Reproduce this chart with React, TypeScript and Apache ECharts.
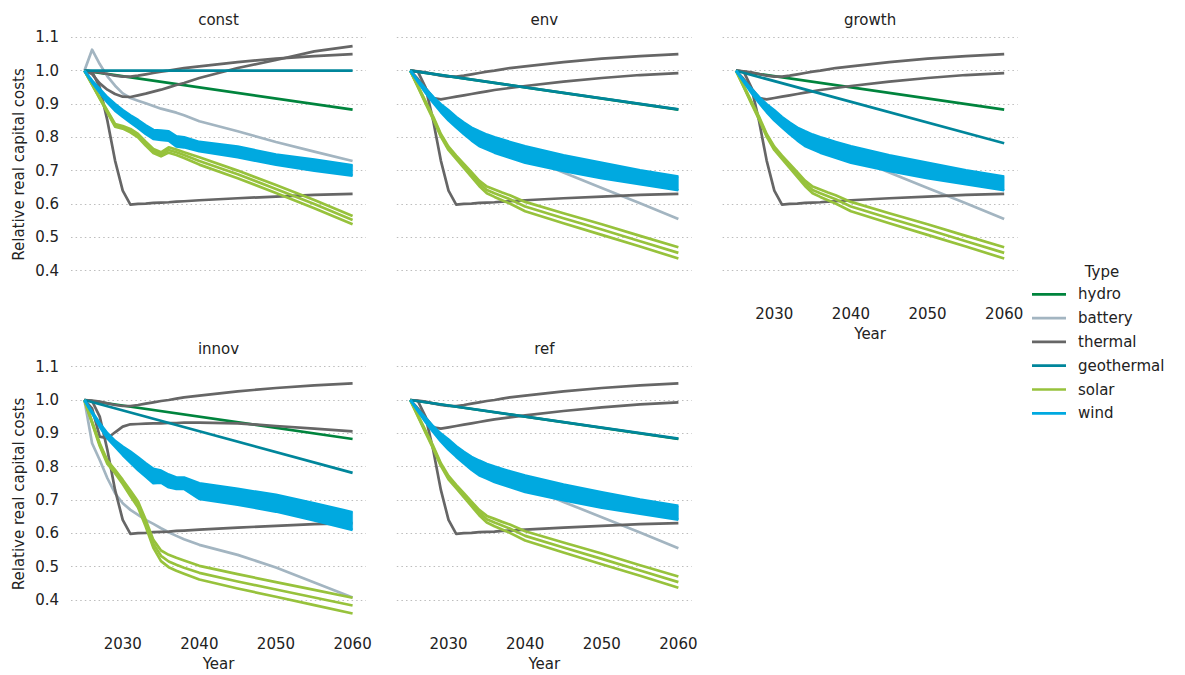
import { useEffect, useRef } from "react";
import * as echarts from "echarts";

// Sample years used by the curved series; straight series only need the endpoints.
const YEARS = [2025, 2026, 2027, 2028, 2029, 2030, 2031, 2032, 2033, 2034, 2035, 2036, 2037, 2038, 2040, 2045, 2050, 2055, 2060];
const ENDS = [2025, 2060];
const X_TICKS = [2030, 2040, 2050, 2060];
const TYPES = ["hydro", "battery", "thermal", "geothermal", "solar", "wind"];

const COLORS: Record<string, string> = {
  hydro: "#00843d",
  battery: "#a3b5c1",
  thermal: "#666666",
  geothermal: "#00869b",
  solar: "#97c23c",
  wind: "#00a9e0",
};

// hydro (same in every scenario)
const HYDRO = [1.0, 0.883];

// geothermal
const GEO_CONST = [1.0, 1.0];
const GEO_ENV = [1.0, 0.884];
const GEO_GROWTH = [1.0, 0.782];
const GEO_INNOV = [1.0, 0.781];
const GEO_REF = [1.0, 0.884];

// thermal
const THERMAL_RISE = [1.0, 0.998, 0.995, 0.99, 0.985, 0.982, 0.982, 0.985, 0.989, 0.993, 0.997, 1.0, 1.004, 1.008, 1.013, 1.026, 1.036, 1.044, 1.05];
const THERMAL_DROP = [1.0, 0.997, 0.95, 0.85, 0.73, 0.64, 0.598, 0.6, 0.601, 0.603, 0.604, 0.605, 0.607, 0.608, 0.611, 0.617, 0.622, 0.627, 0.63];
const THERMAL_DIP_CONST = [1.0, 0.99, 0.962, 0.943, 0.93, 0.922, 0.921, 0.926, 0.931, 0.937, 0.943, 0.95, 0.957, 0.963, 0.978, 1.008, 1.032, 1.058, 1.074];
const THERMAL_DIP_ENV = [1.0, 0.975, 0.948, 0.918, 0.914, 0.918, 0.922, 0.926, 0.93, 0.934, 0.938, 0.942, 0.945, 0.948, 0.954, 0.967, 0.978, 0.987, 0.993];
const THERMAL_DIP_INNOV = [1.0, 0.975, 0.89, 0.885, 0.903, 0.92, 0.927, 0.928, 0.929, 0.93, 0.93, 0.931, 0.931, 0.932, 0.932, 0.93, 0.922, 0.914, 0.906];

// battery
const BATTERY_CONST = [1.0, 1.063, 1.02, 0.983, 0.955, 0.932, 0.918, 0.91, 0.902, 0.894, 0.886, 0.88, 0.874, 0.866, 0.848, 0.818, 0.786, 0.757, 0.729];
const BATTERY_ENV = [1.0, 0.97, 0.94, 0.915, 0.89, 0.866, 0.847, 0.83, 0.815, 0.8, 0.787, 0.778, 0.77, 0.762, 0.742, 0.694, 0.648, 0.602, 0.555];
const BATTERY_INNOV = [1.0, 0.87, 0.82, 0.765, 0.72, 0.69, 0.67, 0.655, 0.64, 0.628, 0.615, 0.603, 0.592, 0.582, 0.565, 0.535, 0.497, 0.452, 0.407];

// solar
const SOLAR_CONST_1 = [1.0, 0.96, 0.92, 0.88, 0.84, 0.834, 0.825, 0.81, 0.787, 0.765, 0.755, 0.77, 0.763, 0.755, 0.74, 0.7, 0.657, 0.612, 0.564];
const SOLAR_CONST_2 = [1.0, 0.959, 0.918, 0.877, 0.836, 0.83, 0.82, 0.805, 0.781, 0.759, 0.749, 0.762, 0.755, 0.747, 0.729, 0.689, 0.645, 0.6, 0.552];
const SOLAR_CONST_3 = [1.0, 0.958, 0.916, 0.874, 0.832, 0.826, 0.815, 0.8, 0.775, 0.753, 0.743, 0.754, 0.747, 0.738, 0.718, 0.677, 0.633, 0.587, 0.539];
const SOLAR_ENV_1 = [1.0, 0.955, 0.908, 0.862, 0.81, 0.772, 0.745, 0.72, 0.695, 0.67, 0.652, 0.643, 0.634, 0.626, 0.606, 0.572, 0.539, 0.504, 0.47];
const SOLAR_ENV_2 = [1.0, 0.953, 0.905, 0.858, 0.806, 0.767, 0.74, 0.714, 0.688, 0.662, 0.642, 0.632, 0.623, 0.614, 0.592, 0.557, 0.523, 0.488, 0.453];
const SOLAR_ENV_3 = [1.0, 0.951, 0.902, 0.854, 0.802, 0.762, 0.735, 0.708, 0.681, 0.654, 0.632, 0.621, 0.611, 0.601, 0.578, 0.542, 0.507, 0.472, 0.436];
const SOLAR_INNOV_1 = [1.0, 0.935, 0.87, 0.818, 0.79, 0.76, 0.728, 0.695, 0.64, 0.58, 0.548, 0.535, 0.526, 0.518, 0.502, 0.477, 0.453, 0.43, 0.406];
const SOLAR_INNOV_2 = [1.0, 0.933, 0.866, 0.813, 0.785, 0.754, 0.72, 0.686, 0.63, 0.568, 0.532, 0.515, 0.505, 0.496, 0.481, 0.455, 0.431, 0.407, 0.383];
const SOLAR_INNOV_3 = [1.0, 0.931, 0.862, 0.808, 0.78, 0.748, 0.712, 0.677, 0.62, 0.556, 0.516, 0.498, 0.487, 0.478, 0.461, 0.434, 0.409, 0.384, 0.359];

// wind: upper and lower edges of the spread of wind runs
const WIND_CONST_HI = [1.0, 0.97, 0.945, 0.92, 0.9, 0.882, 0.866, 0.852, 0.836, 0.822, 0.82, 0.818, 0.803, 0.8, 0.786, 0.772, 0.748, 0.733, 0.716];
const WIND_CONST_LO = [1.0, 0.965, 0.935, 0.905, 0.88, 0.862, 0.845, 0.828, 0.81, 0.795, 0.792, 0.79, 0.773, 0.77, 0.758, 0.74, 0.718, 0.7, 0.685];
const WIND_ENV_HI = [1.0, 0.972, 0.946, 0.921, 0.899, 0.881, 0.861, 0.844, 0.829, 0.818, 0.808, 0.8, 0.793, 0.786, 0.773, 0.746, 0.723, 0.701, 0.682];
const WIND_ENV_LO = [1.0, 0.967, 0.934, 0.904, 0.876, 0.851, 0.83, 0.81, 0.791, 0.774, 0.764, 0.754, 0.746, 0.739, 0.724, 0.699, 0.677, 0.659, 0.641];
const WIND_INNOV_HI = [1.0, 0.965, 0.93, 0.9, 0.877, 0.86, 0.845, 0.828, 0.81, 0.793, 0.788, 0.776, 0.767, 0.767, 0.75, 0.733, 0.715, 0.69, 0.663];
const WIND_INNOV_LO = [1.0, 0.96, 0.92, 0.885, 0.86, 0.835, 0.812, 0.79, 0.77, 0.75, 0.752, 0.738, 0.733, 0.733, 0.703, 0.686, 0.665, 0.638, 0.61];

type LineDef = { type: string; years: number[]; values: number[] };
type PanelDef = {
  name: string;
  col: number;
  row: number;
  lines: LineDef[];
  windHi: number[];
  windLo: number[];
};

const panelLines = (
  geo: number[],
  battery: number[],
  dip: number[],
  solar: number[][]
): LineDef[] => [
  { type: "hydro", years: ENDS, values: HYDRO },
  { type: "battery", years: YEARS, values: battery },
  { type: "thermal", years: YEARS, values: THERMAL_DROP },
  { type: "thermal", years: YEARS, values: dip },
  { type: "thermal", years: YEARS, values: THERMAL_RISE },
  { type: "geothermal", years: ENDS, values: geo },
  ...solar.map((s) => ({ type: "solar", years: YEARS, values: s })),
];

const PANELS: PanelDef[] = [
  {
    name: "const", col: 0, row: 0,
    lines: panelLines(GEO_CONST, BATTERY_CONST, THERMAL_DIP_CONST, [SOLAR_CONST_1, SOLAR_CONST_2, SOLAR_CONST_3]),
    windHi: WIND_CONST_HI, windLo: WIND_CONST_LO,
  },
  {
    name: "env", col: 1, row: 0,
    lines: panelLines(GEO_ENV, BATTERY_ENV, THERMAL_DIP_ENV, [SOLAR_ENV_1, SOLAR_ENV_2, SOLAR_ENV_3]),
    windHi: WIND_ENV_HI, windLo: WIND_ENV_LO,
  },
  {
    name: "growth", col: 2, row: 0,
    lines: panelLines(GEO_GROWTH, BATTERY_ENV, THERMAL_DIP_ENV, [SOLAR_ENV_1, SOLAR_ENV_2, SOLAR_ENV_3]),
    windHi: WIND_ENV_HI, windLo: WIND_ENV_LO,
  },
  {
    name: "innov", col: 0, row: 1,
    lines: panelLines(GEO_INNOV, BATTERY_INNOV, THERMAL_DIP_INNOV, [SOLAR_INNOV_1, SOLAR_INNOV_2, SOLAR_INNOV_3]),
    windHi: WIND_INNOV_HI, windLo: WIND_INNOV_LO,
  },
  {
    name: "ref", col: 1, row: 1,
    lines: panelLines(GEO_REF, BATTERY_ENV, THERMAL_DIP_ENV, [SOLAR_ENV_1, SOLAR_ENV_2, SOLAR_ENV_3]),
    windHi: WIND_ENV_HI, windLo: WIND_ENV_LO,
  },
];

// layout
const COL_LEFT = [71, 396.8, 722.6];
const PANEL_W = 295;
const ROW_TOP = [4.1, 333.4];
const PANEL_H = 299.7;
const FONT = "DejaVu Sans";
const TEXT = "#222222";
const LW = 2.7;

function buildOption() {
  const grid: any[] = [];
  const xAxis: any[] = [];
  const yAxis: any[] = [];
  const series: any[] = [];
  const graphic: any[] = [];

  PANELS.forEach((p, i) => {
    const showX = p.row === 1 || p.name === "growth";
    const showY = p.col === 0;
    grid.push({ left: COL_LEFT[p.col], top: ROW_TOP[p.row], width: PANEL_W, height: PANEL_H });
    xAxis.push({
      type: "value",
      gridIndex: i,
      min: 2023.25,
      max: 2061.75,
      axisLine: { show: false },
      axisTick: { show: false },
      splitLine: { show: false },
      axisLabel: {
        show: showX,
        customValues: X_TICKS,
        margin: 3,
        fontSize: 15,
        fontFamily: FONT,
        color: TEXT,
        formatter: (v: number) => String(v),
      },
      name: showX ? "Year" : "",
      nameLocation: "middle",
      nameGap: 23,
      nameTextStyle: { fontSize: 15, fontFamily: FONT, color: TEXT },
    });
    yAxis.push({
      type: "value",
      gridIndex: i,
      min: 0.3,
      max: 1.2,
      interval: 0.1,
      axisLine: { show: false },
      axisTick: { show: false },
      axisLabel: {
        show: showY,
        margin: 12,
        fontSize: 15,
        fontFamily: FONT,
        color: TEXT,
        showMinLabel: false,
        showMaxLabel: false,
        formatter: (v: number) => v.toFixed(1),
      },
      splitLine: {
        show: true,
        showMinLine: false,
        showMaxLine: false,
        lineStyle: { color: "#bdbdbd", width: 1.2, type: [1.5, 3.1] },
      },
    });

    p.lines.forEach((l) => {
      series.push({
        type: "line",
        name: l.type,
        xAxisIndex: i,
        yAxisIndex: i,
        z: 2,
        data: l.years.map((y, k) => [y, l.values[k]]),
        symbol: "none",
        silent: true,
        lineStyle: { color: COLORS[l.type], width: LW, join: "round" },
        itemStyle: { color: COLORS[l.type] },
      });
    });

    // wind spread: filled band between the lower and upper edges, drawn above the other types
    const lo = p.windLo;
    const hi = p.windHi;
    series.push({
      type: "custom",
      name: "wind",
      xAxisIndex: i,
      yAxisIndex: i,
      z: 4,
      silent: true,
      data: YEARS.map((y, k) => [y, lo[k], hi[k]]),
      encode: { x: 0, y: [1, 2] },
      renderItem: (params: any, api: any) => {
        if (params.dataIndex !== 0) return null;
        const lower = YEARS.map((y, k) => api.coord([y, lo[k]]));
        const upper = YEARS.map((y, k) => api.coord([y, hi[k]])).reverse();
        return {
          type: "polygon",
          shape: { points: lower.concat(upper) },
          style: { fill: COLORS.wind, stroke: COLORS.wind, lineWidth: 0.5 },
        };
      },
    });
    [lo, hi].forEach((edge) => {
      series.push({
        type: "line",
        name: "wind",
        xAxisIndex: i,
        yAxisIndex: i,
        z: 4,
        data: YEARS.map((y, k) => [y, edge[k]]),
        symbol: "none",
        silent: true,
        lineStyle: { color: COLORS.wind, width: LW, join: "round" },
        itemStyle: { color: COLORS.wind },
      });
    });

    // facet title
    graphic.push({
      type: "text",
      x: COL_LEFT[p.col] + PANEL_W / 2,
      y: p.row === 0 ? 19.5 : 349,
      style: {
        text: p.name,
        fontSize: 15,
        fontFamily: FONT,
        fill: TEXT,
        align: "center",
        verticalAlign: "middle",
      },
    });
  });

  // y-axis titles
  [164.5, 494].forEach((cy) => {
    graphic.push({
      type: "text",
      x: 19,
      y: cy,
      rotation: Math.PI / 2,
      style: {
        text: "Relative real capital costs",
        fontSize: 15,
        fontFamily: FONT,
        fill: TEXT,
        align: "center",
        verticalAlign: "middle",
      },
    });
  });

  // legend
  graphic.push({
    type: "text",
    x: 1102,
    y: 271.5,
    style: { text: "Type", fontSize: 15, fontFamily: FONT, fill: TEXT, align: "center", verticalAlign: "middle" },
  });
  TYPES.forEach((t, k) => {
    const y = 294.3 + k * 23.8;
    graphic.push({
      type: "line",
      shape: { x1: 1032, y1: y, x2: 1066, y2: y },
      style: { stroke: COLORS[t], lineWidth: LW },
    });
    graphic.push({
      type: "text",
      x: 1078,
      y,
      style: { text: t, fontSize: 15, fontFamily: FONT, fill: TEXT, align: "left", verticalAlign: "middle" },
    });
  });

  return {
    animation: false,
    backgroundColor: "#ffffff",
    textStyle: { fontFamily: FONT },
    grid,
    xAxis,
    yAxis,
    series,
    graphic,
  };
}

export default function App() {
  const ref = useRef<HTMLDivElement>(null);
  useEffect(() => {
    document.body.style.margin = "0";
    if (!ref.current) return;
    const chart = echarts.init(ref.current, null, { renderer: "svg" });
    chart.setOption(buildOption());
    return () => chart.dispose();
  }, []);
  return <div ref={ref} style={{ width: 1185, height: 675 }} />;
}
